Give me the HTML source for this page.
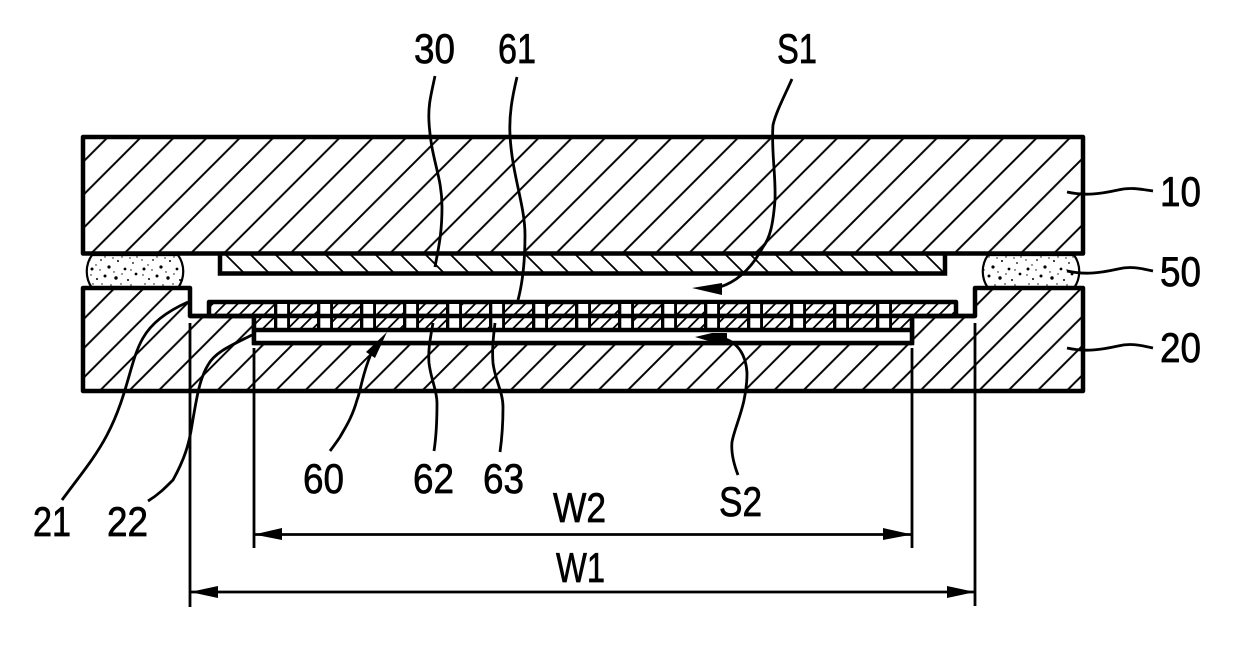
<!DOCTYPE html>
<html>
<head>
<meta charset="utf-8">
<style>
html,body{margin:0;padding:0;background:#fff;width:1240px;height:670px;overflow:hidden}
svg{display:block}
text{font-family:"Liberation Sans",sans-serif;font-size:41.500px;fill:#000;stroke:#000;stroke-width:.7px}
.l{fill:none;stroke:#000;stroke-width:2.800;stroke-linecap:butt}
</style>
</head>
<body>
<svg width="1240" height="670" viewBox="0 0 1240 670" xmlns="http://www.w3.org/2000/svg">
<defs>
<pattern id="hTop" patternUnits="userSpaceOnUse" width="33.2" height="33.2" patternTransform="translate(1075 0)">
<path d="M-2,35.2 L35.2,-2 M-2,2 L2,-2 M31.2,35.2 L35.2,31.2" stroke="#000" stroke-width="2" fill="none"/>
</pattern>
<pattern id="hLow" patternUnits="userSpaceOnUse" width="29.3" height="29.3" patternTransform="translate(1311 0)">
<path d="M-2,31.3 L31.3,-2 M-2,2 L2,-2 M27.3,31.3 L31.3,27.3" stroke="#000" stroke-width="2" fill="none"/>
</pattern>
<pattern id="hFilm" patternUnits="userSpaceOnUse" width="25" height="25" patternTransform="translate(421 0)">
<path d="M-2,-2 L27,27 M-2,23 L2,27 M23,-2 L27,2" stroke="#000" stroke-width="1.8" fill="none"/>
</pattern>
<pattern id="hFine" patternUnits="userSpaceOnUse" width="12.5" height="12.5" patternTransform="translate(529 0)">
<path d="M-2,14.5 L14.5,-2 M-2,2 L2,-2 M10.5,14.5 L14.5,10.5" stroke="#000" stroke-width="1.8" fill="none"/>
</pattern>
<pattern id="grid" patternUnits="userSpaceOnUse" x="274" y="302" width="43" height="28">
<rect x="0" y="0" width="16" height="28" fill="#000"/>
<rect x="3.300" y="2" width="9.800" height="10.500" fill="#fff"/>
<rect x="3.300" y="15.500" width="9.800" height="10.500" fill="#fff"/>
</pattern>
<pattern id="st" patternUnits="userSpaceOnUse" x="87" y="254" width="52" height="34">
<g fill="#000">
<circle cx="5" cy="15" r="1.5"/><circle cx="14" cy="6" r=".9"/><circle cx="22" cy="13" r="1.6"/><circle cx="31" cy="7" r="1"/><circle cx="38" cy="15" r="1.4"/><circle cx="46" cy="9" r=".9"/>
<circle cx="10" cy="25" r="1"/><circle cx="18" cy="22" r="1.5"/><circle cx="29" cy="24" r="1.7"/><circle cx="41" cy="26" r="1"/><circle cx="49" cy="20" r="1.4"/>
<circle cx="3" cy="6" r=".7"/><circle cx="9" cy="11" r=".7"/><circle cx="18" cy="3" r=".7"/><circle cx="26" cy="4" r=".7"/><circle cx="35" cy="3" r=".7"/><circle cx="43" cy="4" r=".7"/><circle cx="50" cy="3" r=".7"/>
<circle cx="6" cy="30" r=".7"/><circle cx="15" cy="30" r=".7"/><circle cx="24" cy="31" r=".7"/><circle cx="34" cy="30" r=".7"/><circle cx="44" cy="31" r=".7"/><circle cx="13" cy="16" r=".7"/><circle cx="27" cy="18" r=".7"/><circle cx="35" cy="20" r=".7"/><circle cx="44" cy="16" r=".7"/><circle cx="4" cy="21" r=".7"/>
</g>
</pattern>
</defs>

<rect width="1240" height="670" fill="#fff"/>

<!-- solder -->
<path d="M92,255 H178 C185,265 185,278 178,288 H92 C85,278 85,265 92,255Z" fill="url(#st)" stroke="#000" stroke-width="2.200"/>
<path d="M988,255 H1074 C1081,265 1081,278 1074,288 H988 C981,278 981,265 988,255Z" fill="url(#st)" stroke="#000" stroke-width="2.200"/>

<!-- top plate -->
<rect x="83" y="137" width="1000" height="116.500" fill="url(#hTop)" stroke="#000" stroke-width="4.500" stroke-linejoin="round"/>

<!-- film 30 -->
<path d="M220,254 V273.500 H945 V254" fill="url(#hFilm)" stroke="#000" stroke-width="4.500"/>

<!-- lower body -->
<path d="M83,288 H190 V316 H254 V343 H912 V316 H975 V288 H1083 V391 H83Z" fill="url(#hLow)" stroke="#000" stroke-width="4.500" stroke-linejoin="round"/>

<!-- element 60 -->
<path d="M209,316 V302 H956 V316Z" fill="#fff"/>
<path d="M209,316 V302 H956 V316Z" fill="url(#hFine)" stroke="#000" stroke-width="4.500" stroke-linejoin="round"/>
<rect x="254" y="316" width="658" height="14" fill="#fff"/>
<rect x="254" y="316" width="658" height="14" fill="url(#hFine)"/>
<rect x="274" y="302" width="645" height="28" fill="url(#grid)"/>
<rect x="254" y="330" width="658" height="13" fill="#fff"/>
<path d="M254,316 V343 H912 V316" fill="none" stroke="#000" stroke-width="4.500"/>
<path d="M254,330 H912" stroke="#000" stroke-width="4.500"/>
<path d="M190,316 H975" stroke="#000" stroke-width="4.500"/>

<!-- dimension lines -->
<path class="l" d="M190,323 V607 M254,348 V548 M912,348 V548 M975,323 V606"/>
<path class="l" d="M254,534.500 H912 M190,592 H975"/>
<polygon points="254,534.500 282,528 282,540" fill="#000"/>
<polygon points="912,534.500 883,528 883,540" fill="#000"/>
<polygon points="190,592 218,586 218,598" fill="#000"/>
<polygon points="975,592 947,586 947,598" fill="#000"/>

<!-- leaders -->
<path class="l" d="M435,76 C431,95 428,105 429,122 C431,160 442,175 442,207 C442,235 438,250 435,267"/>
<path class="l" d="M517,77 C512,98 509,115 510,135 C512,175 525,205 525,235 C525,265 522,285 518,300"/>
<path class="l" d="M792,79 C784,97 776,112 773,125 C771,150 776,175 775,200 C773,225 770,238 763,247 C755,262 742,280 720,287"/>
<polygon points="692,288 722,283 722,295" fill="#000"/>
<path class="l" d="M738,475 C733,462 731,452 732,442 C735,425 747,405 747,373 C746,355 738,342 722,338"/>
<polygon points="695,337 712,333 727,333 727,342 712,342" fill="#000"/>
<path class="l" d="M188,302 C170,310 152,322 143,338 C130,360 128,395 107,435 C95,458 78,478 62,500"/>
<path class="l" d="M252,335 C232,345 215,352 208,365 C200,378 197,395 192,425 C189,445 184,460 173,480 C165,488 158,495 148,501"/>
<path class="l" d="M371,354 C362,375 361,390 357,400 C352,418 345,428 340,437 C336,443 333,447 330,451"/>
<polygon points="387,332 375,358 366,352" fill="#000"/>
<path class="l" d="M433,323 C430,340 428,350 429,363 C431,380 437,390 437,403 C437,425 436,438 434,451"/>
<path class="l" d="M495,323 C493,340 492,350 493,363 C495,380 503,392 503,407 C503,425 502,438 500,452"/>
<path class="l" d="M1067,192 C1085,196 1100,194 1118,190 C1130,187 1140,189 1153,191"/>
<path class="l" d="M1067,271 C1085,275 1100,273 1118,269 C1130,266 1140,268 1153,271"/>
<path class="l" d="M1067,348 C1085,352 1100,350 1118,346 C1130,343 1140,345 1153,348"/>

<!-- labels -->
<text x="414" y="63" textLength="41" lengthAdjust="spacingAndGlyphs">30</text>
<text x="498" y="63" textLength="38" lengthAdjust="spacingAndGlyphs">61</text>
<text x="777" y="63" textLength="40" lengthAdjust="spacingAndGlyphs">S1</text>
<text x="1160" y="206" textLength="41" lengthAdjust="spacingAndGlyphs">10</text>
<text x="1160" y="286" textLength="41" lengthAdjust="spacingAndGlyphs">50</text>
<text x="1160" y="362" textLength="41" lengthAdjust="spacingAndGlyphs">20</text>
<text x="33" y="536" textLength="38" lengthAdjust="spacingAndGlyphs">21</text>
<text x="107" y="536" textLength="41" lengthAdjust="spacingAndGlyphs">22</text>
<text x="303" y="493" textLength="41" lengthAdjust="spacingAndGlyphs">60</text>
<text x="413" y="493" textLength="41" lengthAdjust="spacingAndGlyphs">62</text>
<text x="483" y="493" textLength="41" lengthAdjust="spacingAndGlyphs">63</text>
<text x="719" y="516" textLength="43" lengthAdjust="spacingAndGlyphs">S2</text>
<text x="553" y="522" textLength="53" lengthAdjust="spacingAndGlyphs">W2</text>
<text x="556" y="582" textLength="49" lengthAdjust="spacingAndGlyphs">W1</text>
</svg>
</body>
</html>
